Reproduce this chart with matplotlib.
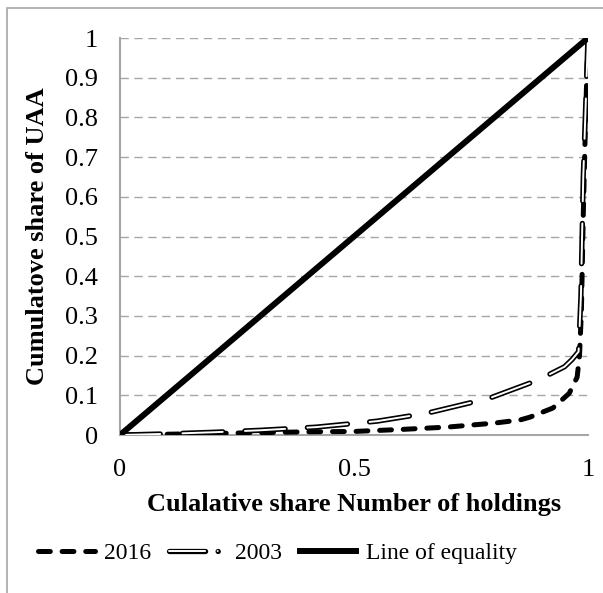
import matplotlib
matplotlib.use("Agg")
import matplotlib.pyplot as plt
from matplotlib.lines import Line2D
from matplotlib.patches import Rectangle

# Lorenz curves of UAA concentration
share_holdings_2016 = [0, 0.1, 0.2, 0.3, 0.4, 0.5, 0.6, 0.7, 0.8, 0.855, 0.876,
                       0.925, 0.96, 0.977, 0.982, 0.986, 0.99, 0.995, 1.0]
share_uaa_2016 = [0, 0.002, 0.004, 0.006, 0.008, 0.009, 0.014, 0.02, 0.03, 0.038,
                  0.045, 0.068, 0.105, 0.146, 0.2, 0.31, 0.55, 0.8, 1.0]

share_holdings_2003 = [0, 0.1, 0.2, 0.3, 0.42, 0.55, 0.656, 0.79, 0.897, 0.923,
                       0.95, 0.966, 0.98, 0.985, 0.99, 1.0]
share_uaa_2003 = [0, 0.003, 0.007, 0.012, 0.02, 0.035, 0.055, 0.093, 0.14, 0.156,
                  0.172, 0.19, 0.21, 0.35, 0.65, 1.0]

equality = [0, 1]

x_ticks = [0, 0.5, 1]
x_tick_labels = ["0", "0.5", "1"]
y_ticks = [0, 0.1, 0.2, 0.3, 0.4, 0.5, 0.6, 0.7, 0.8, 0.9, 1]
y_tick_labels = ["0", "0.1", "0.2", "0.3", "0.4", "0.5", "0.6", "0.7", "0.8", "0.9", "1"]

plt.rcParams["font.family"] = ["Liberation Serif", "DejaVu Serif"]
plt.rcParams["lines.scale_dashes"] = False
FS = 19
LEG_FS = 17
GREY = "#a6a6a6"

fig = plt.figure(figsize=(6.03, 5.93), dpi=100)
ax = fig.add_axes([0.199, 0.2664, 0.776, 0.6695])

# Excel-like chart border (cut at right and bottom)
fig.patches.append(Rectangle((7 / 603, -0.2), 1.5, 1.2 - 8 / 593,
                             transform=fig.transFigure, fill=False,
                             edgecolor=GREY, linewidth=1.2))

# 2016 - thick dashed
dash16 = (0, (8.5, 8.5))
ax.plot(share_holdings_2016, share_uaa_2016, color="black", linewidth=3.6,
        linestyle=dash16, dash_capstyle="round", zorder=3)

# 2003 - hollow (double) long dash
dash03 = (0, (29, 16))
ax.plot(share_holdings_2003, share_uaa_2003, color="black", linewidth=3.8,
        linestyle=dash03, dash_capstyle="round", zorder=4)
ax.plot(share_holdings_2003, share_uaa_2003, color="white", linewidth=1.4,
        linestyle=dash03, dash_capstyle="round", zorder=5)

# Line of equality
ax.plot(equality, equality, color="black", linewidth=4.3,
        solid_capstyle="butt", zorder=6)

ax.set_xlim(0, 1)
ax.set_ylim(0, 1)
ax.set_xticks(x_ticks)
ax.set_xticklabels(x_tick_labels)
ax.set_yticks(y_ticks)
ax.set_yticklabels(y_tick_labels)
ax.tick_params(axis="both", length=0, labelsize=FS)
ax.tick_params(axis="y", pad=16)
ax.tick_params(axis="x", pad=17)

ax.grid(True, axis="y", color=GREY, linestyle=(0, (6, 4)), linewidth=1.0)
ax.set_axisbelow(True)
for side in ["top", "right"]:
    ax.spines[side].set_visible(False)
for side in ["left", "bottom"]:
    ax.spines[side].set_color(GREY)
    ax.spines[side].set_linewidth(1.5)

ax.set_xlabel("Culalative share Number of holdings", fontsize=FS,
              fontweight="bold", labelpad=9)
ax.set_ylabel("Cumulatove share of UAA", fontsize=FS, fontweight="bold",
              labelpad=11)

# legend proxies
h2016 = Line2D([], [], color="black", linewidth=3.6,
               linestyle=dash16, dash_capstyle="round")
leg03 = (0, (26, 9, 0.1, 9))
h2003 = (Line2D([], [], color="black", linewidth=3.8, linestyle=leg03,
                dash_capstyle="round"),
         Line2D([], [], color="white", linewidth=1.4, linestyle=leg03,
                dash_capstyle="round"))
heq = Line2D([], [], color="black", linewidth=4.3)

fig.legend([h2016, h2003, heq], ["2016", "2003", "Line of equality"],
           loc="center", bbox_to_anchor=(0.46, 0.067), ncol=3,
           frameon=False, fontsize=LEG_FS, handlelength=2.4,
           handletextpad=0.4, columnspacing=0.75)

fig.savefig("out.png", dpi=100)
